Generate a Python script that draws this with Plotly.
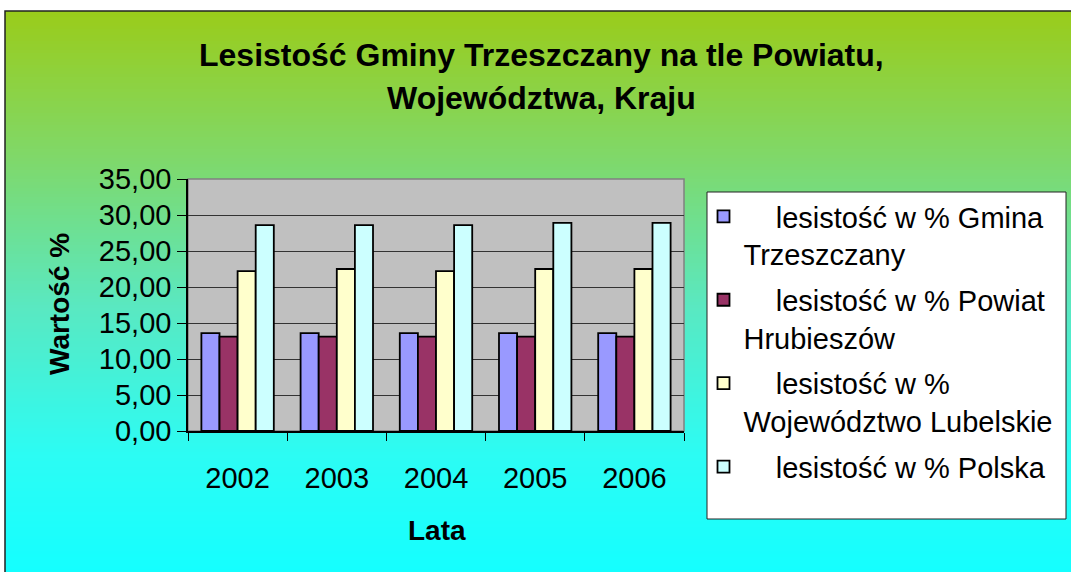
import plotly.graph_objects as go

years = ["2002", "2003", "2004", "2005", "2006"]
series_names = [
    "lesistość w % Gmina Trzeszczany",
    "lesistość w % Powiat Hrubieszów",
    "lesistość w % Województwo Lubelskie",
    "lesistość w % Polska",
]
gmina = [13.6, 13.6, 13.6, 13.6, 13.6]
powiat = [13.1, 13.1, 13.1, 13.1, 13.1]
wojewodztwo = [22.2, 22.5, 22.2, 22.5, 22.5]
polska = [28.6, 28.6, 28.6, 28.9, 28.9]
y_ticks = [0, 5, 10, 15, 20, 25, 30, 35]

legend_labels = [
    "\u00a0\u00a0\u00a0\u00a0lesistość w % Gmina<br>Trzeszczany",
    "\u00a0\u00a0\u00a0\u00a0lesistość w % Powiat<br>Hrubieszów",
    "\u00a0\u00a0\u00a0\u00a0lesistość w %<br>Województwo Lubelskie",
    "\u00a0\u00a0\u00a0\u00a0lesistość w % Polska",
]
colors = ["#9999FF", "#993366", "#FFFFCC", "#CCFFFF"]

W, H = 1071, 572
L, R, T, B = 188, 684, 179, 431
FONT = "Liberation Sans, Arial, sans-serif"


def px_x(p):
    return (p - L) / (R - L)


def px_y(p):
    return (B - p) / (B - T)


fig = go.Figure()
for vals, lab, col in zip([gmina, powiat, wojewodztwo, polska], legend_labels, colors):
    fig.add_trace(go.Bar(
        x=years, y=vals, name=lab, legendgroup=lab,
        marker=dict(color=col, line=dict(color="black", width=1.8)),
    ))

# gradient background (bands)
stops = [(11, (154, 204, 26)), (155, (128, 216, 104)), (305, (90, 232, 192)),
         (455, (44, 252, 244)), (572, (20, 255, 255))]


def col_at(y):
    for (y0, c0), (y1, c1) in zip(stops[:-1], stops[1:]):
        if y0 <= y <= y1:
            t = (y - y0) / (y1 - y0)
            return "rgb(%d,%d,%d)" % tuple(round(a + (b - a) * t) for a, b in zip(c0, c1))
    return "rgb(%d,%d,%d)" % stops[-1][1]


shapes = []
step = 3
y = 11
while y < H:
    shapes.append(dict(type="rect", xref="paper", yref="paper", layer="below",
                       x0=px_x(5), x1=px_x(W + 5), y0=px_y(min(y + step + 1, H + 2)), y1=px_y(y),
                       line=dict(width=0), fillcolor=col_at(y + step / 2)))
    y += step
# outer frame
shapes.append(dict(type="rect", xref="paper", yref="paper", layer="below",
                   x0=px_x(5), x1=px_x(W + 10), y0=px_y(H + 10), y1=px_y(11),
                   line=dict(color="#222222", width=1.5), fillcolor="rgba(0,0,0,0)"))
# plot area background
shapes.append(dict(type="rect", xref="paper", yref="paper", layer="below",
                   x0=0, x1=1, y0=0, y1=1, line=dict(color="#808080", width=1.5),
                   fillcolor="#C0C0C0"))
# legend box
shapes.append(dict(type="rect", xref="paper", yref="paper", layer="below",
                   x0=px_x(707), x1=px_x(1066), y0=px_y(519), y1=px_y(192),
                   line=dict(color="#222222", width=1), fillcolor="white"))


def ann(text, x, y, size, angle=0):
    return dict(text=text, x=px_x(x), y=px_y(y), xref="paper", yref="paper",
                xanchor="center", yanchor="middle", showarrow=False, textangle=angle,
                font=dict(size=size, color="black", family=FONT))


annotations = [
    ann("<b>Lesistość Gminy Trzeszczany na tle Powiatu,</b>", 541, 55, 32),
    ann("<b>Województwa, Kraju</b>", 541, 98, 32),
    ann("<b>Lata</b>", 437, 530, 28),
    ann("<b>Wartość %</b>", 59, 304, 28, -90),
]

fig.update_layout(
    width=W, height=H,
    margin=dict(l=L, r=W - R, t=T, b=H - B, autoexpand=False),
    paper_bgcolor="white", plot_bgcolor="rgba(0,0,0,0)",
    font=dict(family=FONT, size=29, color="black"),
    separators=", ",
    barmode="group", bargap=0.27, bargroupgap=0,
    shapes=shapes, annotations=annotations,
    showlegend=True,
    legend=dict(x=px_x(703.5), y=px_y(191), xanchor="left", yanchor="top",
                bgcolor="rgba(0,0,0,0)", borderwidth=0, valign="top", maxheight=400,
                font=dict(size=29, family=FONT, color="black"), tracegroupgap=5),
    xaxis=dict(type="category", showline=True, linecolor="black", linewidth=1.5,
               ticks="outside", ticklen=8, tickcolor="black", tickson="boundaries",
               ticklabelstandoff=20, showgrid=False),
    yaxis=dict(range=[0, 35], tickvals=y_ticks, tickformat=".2f", showline=True,
               linecolor="black", linewidth=1.5, ticks="outside", ticklen=9,
               tickcolor="black", showgrid=True, gridcolor="#333333", gridwidth=1,
               zeroline=False),
)

fig.write_html("out.html", config={"displayModeBar": False},
               post_script="document.body.style.margin='0';document.body.style.overflow='hidden';")
